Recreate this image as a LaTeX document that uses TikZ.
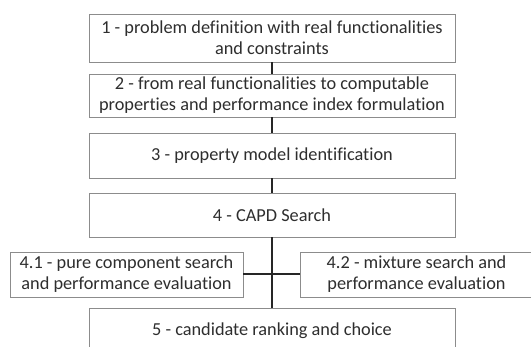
\documentclass[tikz,border=0pt]{standalone}
\usepackage{fontspec}
\setmainfont[Ligatures=CommonOff]{Carlito}
\begin{document}
\begin{tikzpicture}[x=1pt,y=-1pt,
  box/.style={draw=black!45, line width=0.9pt, fill=white, text=black!82, align=center, font=\fontsize{18.3}{21}\selectfont, inner sep=0pt},
  conn/.style={draw=black!85, line width=2pt}]
\useasboundingbox (0,0) rectangle (531,347);
\clip (0,0) rectangle (531,347);
\node[box, minimum width=366, minimum height=48] (b1) at (272,38) {1 - problem definition with real functionalities\\and constraints};
\node[box, minimum width=366, minimum height=43] (b2) at (272,95.5) {2 - from real functionalities to computable\\properties and performance index formulation};
\node[box, minimum width=366, minimum height=45] (b3) at (272,155.5) {3 - property model identification};
\node[box, minimum width=366, minimum height=44] (b4) at (272,215) {4 - CAPD Search};
\node[box, minimum width=233, minimum height=45] (b41) at (126.5,274.5) {4.1 - pure component search\\and performance evaluation};
\node[box, minimum width=250, minimum height=45] (b42) at (425,274.5) {\hspace*{-17pt}4.2 - mixture search and\\\hspace*{-17pt}performance evaluation};
\node[box, minimum width=366, minimum height=60] (b5) at (272,338) {};
\node[text=black!82, font=\fontsize{18.3}{21}\selectfont] (t5) at (272,331) {5 - candidate ranking and choice};
\coordinate (j) at (272,274);
\draw[conn] (b1.south) -- (b2.north);
\draw[conn] (b2.south) -- (b3.north);
\draw[conn] (b3.south) -- (b4.north);
\draw[conn] (b4.south) -- (j) -- (b5.north);
\draw[conn] (b41.east) -- (b42.west);
\end{tikzpicture}
\end{document}
